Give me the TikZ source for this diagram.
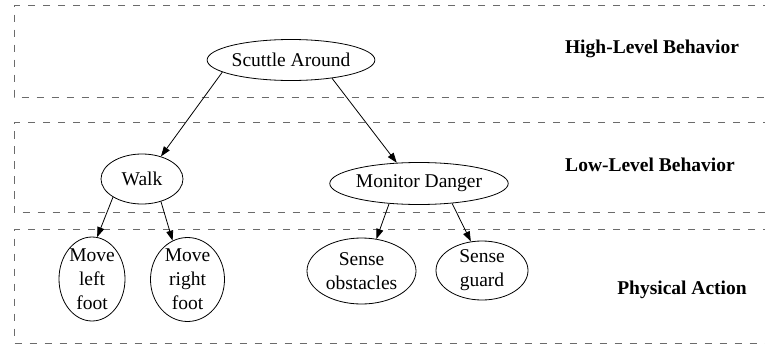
\documentclass[tikz,border=0pt]{standalone}
\usepackage{fontspec}
\setmainfont{Liberation Serif}
\usetikzlibrary{shapes.geometric,arrows.meta}
\begin{document}
\begin{tikzpicture}[x=1pt,y=-1pt,
  lane/.style={draw=black!58,line width=0.9pt,dash pattern=on 7.5pt off 7.5pt},
  st/.style={draw,ellipse,line width=0.8pt,inner sep=0pt,align=center,
    font=\fontsize{19.5}{24}\selectfont},
  lbl/.style={font=\fontsize{19.5}{24}\selectfont\bfseries,inner sep=0pt},
  edge/.style={line width=0.8pt,-{Triangle[length=10pt,width=7pt]}}]
\useasboundingbox (0,0) rectangle (765,348);
\clip (0,0) rectangle (765,348);
% lanes
\draw[lane] (770,5.5) -- (14,5.5) -- (14,97) -- (770,97);
\draw[lane] (770,122) -- (14,122) -- (14,212.5) -- (770,212.5);
\draw[lane] (770,229.5) -- (14,229.5) -- (14,343) -- (770,343);
% lane labels
\node[lbl] (hl) at (652,49) {High-Level Behavior};
\node[lbl] (ll) at (650,165) {Low-Level Behavior};
\node[lbl] (pa) at (682,290) {Physical Action};
% states
\node[st,minimum width=158pt,minimum height=41pt] (sa) at (291,60) {Scuttle Around};
\node[st,minimum width=82pt,minimum height=50pt] (wk) at (142,179) {Walk};
\node[st,minimum width=158pt,minimum height=42pt] (md) at (419,183.5) {Monitor Danger};
\node[st,minimum width=66pt,minimum height=84pt,inner ysep=-1pt] (ml) at (92,279) {Move\\left\\foot};
\node[st,minimum width=74pt,minimum height=84pt,inner ysep=-1pt] (mr) at (187.5,279.5) {Move\\right\\foot};
\node[st,minimum width=109pt,minimum height=66pt] (so) at (361.5,271) {Sense\\obstacles};
\node[st,minimum width=92pt,minimum height=59pt] (sg) at (482,270.5) {Sense\\guard};
% edges
\draw[edge] (sa.190) -- (wk.50);
\draw[edge] (sa.336) -- (md.137);
\draw[edge] (wk.212) -- (ml.83);
\draw[edge] (wk.310) -- (mr.111);
\draw[edge] (md.214) -- (so.65);
\draw[edge] (md.329) -- (sg.111);
\end{tikzpicture}
\end{document}
